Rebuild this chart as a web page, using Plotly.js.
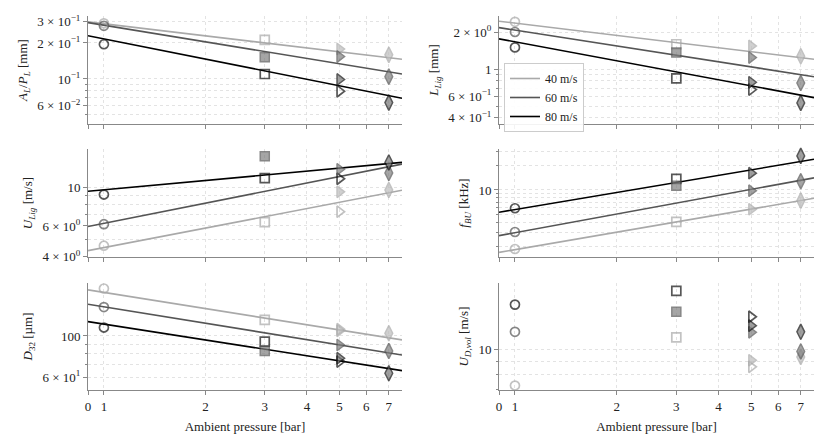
<!DOCTYPE html>
<html>
<head>
<meta charset="utf-8">
<script src="https://cdn.plot.ly/plotly-3.0.1.min.js"></script>
<style>html,body{margin:0;padding:0;background:#fff;}#chart{width:830px;height:442px;}</style>
</head>
<body>
<div id="chart"></div>
<script>
// ---------- data ----------
const pressure = [1, 3, 5, 7];
const speedLabels = ['40 m/s', '60 m/s', '80 m/s'];
const fitPressure = [0.897, 7.66];   // fit lines drawn across the full pressure range
const xTickVals = [0.897, 1, 2, 3, 4, 5, 6, 7];
const xTickText = ['0', '1', '2', '3', '4', '5', '6', '7'];

// A_L/P_L [mm]  rows: 40, 60, 80 m/s ; columns: p = 1, 3, 5, 7
const A_open = [[0.292, 0.212, null, null], [0.278, null, null, null], [0.195, 0.110, 0.079, null]];
const A_fill = [[null, null, 0.178, 0.159], [null, 0.152, 0.154, 0.1045], [null, null, 0.099, 0.0634]];
const A_fit = [[0.300, 0.146], [0.296, 0.110], [0.230, 0.069]];

// L_Lig [mm]
const B_open = [[2.42, 1.59, null, null], [2.0, null, null, null], [1.50, 0.84, 0.68, null]];
const B_fill = [[null, null, 1.54, 1.27], [null, 1.36, 1.24, 0.77], [null, null, 0.78, 0.53]];
const B_fit = [[2.45, 1.20], [2.17, 0.866], [1.76, 0.585]];

// U_Lig [m/s]
const C_open = [[4.62, 6.32, 7.25, null], [6.14, null, null, null], [9.09, 11.3, 11.2, null]];
const C_fill = [[null, null, 9.42, 9.65], [null, 15.1, 12.7, 12.1], [null, null, null, 13.9]];
const C_fit = [[4.33, 9.62], [5.96, 13.6], [9.49, 13.9]];

// f_BU [kHz]
const D_open = [[1.87, 4.03, null, null], [3.03, null, null, null], [5.95, 13.7, null, null]];
const D_fill = [[null, null, 5.78, 7.38], [null, 11.3, 9.8, 12.8], [null, null, 16.1, 26.3]];
const D_fit = [[1.70, 7.9], [2.73, 14.1], [5.31, 23.9]];

// D_32 [um]
const E_open = [[180, 122, 108.6, null], [143, null, null, null], [111, 93.2, 72.8, null]];
const E_fill = [[null, null, 106.5, 103.4], [null, 83, 89.4, 83], [null, null, 75.9, 63]];
const E_fit = [[177, 95.2], [148, 79], [119.4, 65.1]];

// U_D,vol [m/s]
const F_open = [[7.26, 11.1, 8.56, null], [11.65, null, null, null], [14.8, 16.7, 13.3, null]];
const F_fill = [[null, null, 9.07, 9.34], [null, 13.9, 11.6, 9.8], [null, null, 12.3, 11.65]];

// y tick labels
const A_ticks = [0.06, 0.1, 0.2, 0.3];
const A_tickText = ['6 × 10<sup>−2</sup>', '10<sup>−1</sup>', '2 × 10<sup>−1</sup>', '3 × 10<sup>−1</sup>'];
const A_minor = [0.05, 0.07, 0.08, 0.09];
const B_ticks = [0.4, 0.6, 1, 2];
const B_tickText = ['4 × 10<sup>−1</sup>', '6 × 10<sup>−1</sup>', '1', '2 × 10<sup>0</sup>'];
const B_minor = [0.5, 0.7, 0.8, 0.9];
const C_ticks = [4, 6, 10];
const C_tickText = ['4 × 10<sup>0</sup>', '6 × 10<sup>0</sup>', '10'];
const C_minor = [5, 7, 8, 9];
const D_ticks = [10];
const D_tickText = ['10'];
const D_minor = [2, 3, 4, 5, 6, 7, 8, 9, 20, 30];
const E_ticks = [60, 100];
const E_tickText = ['6 × 10<sup>1</sup>', '100'];
const E_minor = [70, 80, 90];
const F_ticks = [10];
const F_tickText = ['10'];
const F_minor = [7, 8, 9];

// ---------- styling ----------
const FONT = 'Liberation Serif, DejaVu Serif, serif';
const lineColors = ['#a9a9a9', '#555555', '#000000'];
const fillColors = ['#bdbdbd', '#7f7f7f', '#777777'];
const edgeColors = ['#a9a9a9', '#555555', '#111111'];
const symbols = ['circle', 'square', 'triangle-right', 'diamond-tall'];
const sizes = [9, 9, 10, 11];

const panels = [
  {id: '',  open: A_open, fill: A_fill, fit: A_fit, title: '<i>A<sub>L</sub></i>/<i>P<sub>L</sub></i> [mm]', range: [0.042, 0.336], ticks: A_ticks, text: A_tickText, minor: A_minor, col: 0, row: 0},
  {id: '2', open: B_open, fill: B_fill, fit: B_fit, title: '<i>L<sub>Lig</sub></i> [mm]', range: [0.357, 2.70], ticks: B_ticks, text: B_tickText, minor: B_minor, col: 1, row: 0},
  {id: '3', open: C_open, fill: C_fill, fit: C_fit, title: '<i>U<sub>Lig</sub></i> [m/s]', range: [3.98, 16.6], ticks: C_ticks, text: C_tickText, minor: C_minor, col: 0, row: 1},
  {id: '4', open: D_open, fill: D_fill, fit: D_fit, title: '<i>f<sub>BU</sub></i> [kHz]', range: [1.49, 32], ticks: D_ticks, text: D_tickText, minor: D_minor, col: 1, row: 1},
  {id: '5', open: E_open, fill: E_fill, fit: E_fit, title: '<i>D</i><sub>32</sub> [µm]', range: [51.2, 192.7], ticks: E_ticks, text: E_tickText, minor: E_minor, col: 0, row: 2},
  {id: '6', open: F_open, fill: F_fill, fit: null, title: '<i>U<sub>D,vol</sub></i> [m/s]', range: [6.98, 17.9], ticks: F_ticks, text: F_tickText, minor: F_minor, col: 1, row: 2}
];

const xDomains = [[88 / 830, 402 / 830], [499 / 830, 814 / 830]];
const yDomains = [[1 - 124 / 442, 1 - 16 / 442], [1 - 257 / 442, 1 - 149 / 442], [1 - 390 / 442, 1 - 283 / 442]];

const traces = [];
const layout = {
  width: 830, height: 442,
  margin: {l: 0, r: 0, t: 0, b: 0},
  paper_bgcolor: '#fff', plot_bgcolor: '#fff',
  font: {family: FONT, size: 13, color: '#222'},
  showlegend: true,
  legend: {x: 504 / 830, y: 1 - 63 / 442, xanchor: 'left', yanchor: 'top',
           bgcolor: 'rgba(255,255,255,0.9)', bordercolor: '#cccccc', borderwidth: 1,
           font: {family: FONT, size: 12, color: '#222'}, itemwidth: 30, tracegroupgap: 0}
};

const grid = {showgrid: true, gridcolor: '#dcdcdc', gridwidth: 0.8, griddash: 'dot'};

panels.forEach(p => {
  const xa = 'x' + p.id, ya = 'y' + p.id;
  if (p.fit) {
    p.fit.forEach((f, i) => {
      traces.push({type: 'scatter', mode: 'lines', x: fitPressure, y: f, xaxis: xa, yaxis: ya,
        line: {color: lineColors[i], width: 1.6}, name: speedLabels[i],
        showlegend: p.id === '2', hoverinfo: 'skip'});
    });
  }
  p.open.forEach((vals, i) => {
    traces.push({type: 'scatter', mode: 'markers', x: pressure, y: vals, xaxis: xa, yaxis: ya,
      showlegend: false, cliponaxis: false,
      marker: {symbol: symbols, size: sizes, color: 'rgba(255,255,255,0)',
               line: {color: edgeColors[i], width: 1.7}}});
  });
  p.fill.forEach((vals, i) => {
    traces.push({type: 'scatter', mode: 'markers', x: pressure, y: vals, xaxis: xa, yaxis: ya,
      showlegend: false, cliponaxis: false,
      marker: {symbol: symbols, size: sizes, color: fillColors[i],
               line: {color: edgeColors[i], width: 1.5}}});
  });

  const bottom = p.row === 2;
  const xaxis = Object.assign({
    type: 'log', domain: xDomains[p.col], anchor: ya,
    range: [Math.log10(fitPressure[0]), Math.log10(fitPressure[1])],
    tickmode: 'array', tickvals: xTickVals, ticktext: xTickText,
    showticklabels: bottom, ticks: 'outside', ticklen: 4, tickcolor: '#888', tickwidth: 1,
    showline: true, linecolor: '#888', linewidth: 1, zeroline: false,
    tickfont: {family: FONT, size: 13, color: '#222'}
  }, grid);
  if (bottom) xaxis.title = {text: 'Ambient pressure [bar]', font: {family: FONT, size: 13, color: '#222'}, standoff: 9};
  layout['xaxis' + p.id] = xaxis;
  layout['yaxis' + p.id] = Object.assign({
    type: 'log', domain: yDomains[p.row], anchor: xa,
    range: [Math.log10(p.range[0]), Math.log10(p.range[1])],
    tickmode: 'array', tickvals: p.ticks, ticktext: p.text,
    ticks: 'outside', ticklen: 4, tickcolor: '#888', tickwidth: 1,
    showline: true, linecolor: '#888', linewidth: 1, zeroline: false,
    tickfont: {family: FONT, size: 13, color: '#222'},
    minor: {tickmode: 'array', tickvals: p.minor, ticks: 'outside', ticklen: 2, tickcolor: '#888',
            showgrid: true, gridcolor: '#dcdcdc', gridwidth: 0.8, griddash: 'dot'},
    title: {text: p.title, font: {family: FONT, size: 13, color: '#222'}, standoff: 6}
  }, grid);
});

Plotly.newPlot('chart', traces, layout, {displayModeBar: false, staticPlot: true});
</script>
</body>
</html>
